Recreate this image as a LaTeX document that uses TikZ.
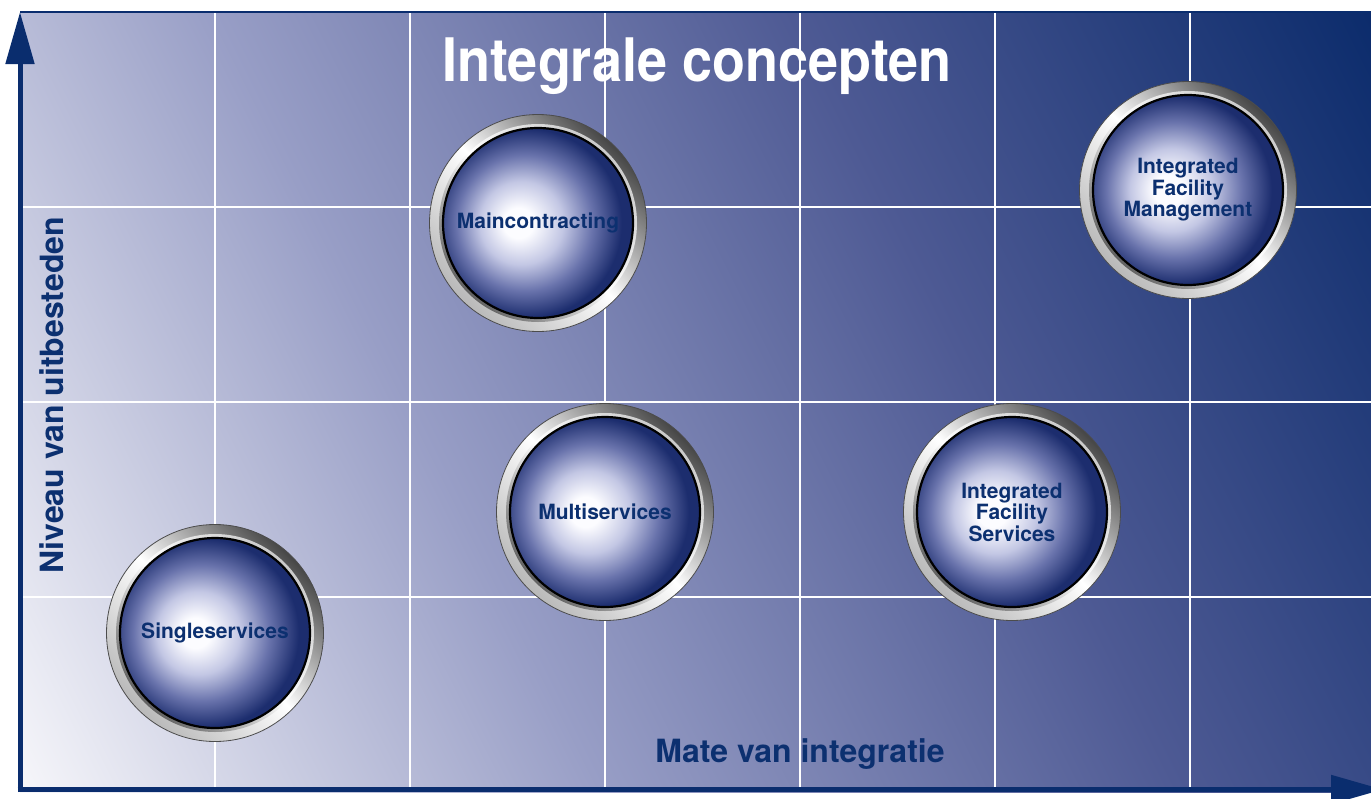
\documentclass[tikz,border=0pt]{standalone}
\usepackage{fontspec}
\setmainfont{TeX Gyre Heros}
\usetikzlibrary{arrows.meta}
\definecolor{navyA}{RGB}{10,45,110}
\definecolor{navyT}{RGB}{12,48,112}
\definecolor{cBL}{RGB}{246,246,250}
\definecolor{cTL}{RGB}{152,158,198}
\definecolor{cBR}{RGB}{78,90,148}
\definecolor{cTR}{RGB}{12,44,108}
\definecolor{ballW}{RGB}{252,252,255}
\definecolor{ballL}{RGB}{195,199,228}
\definecolor{ballM}{RGB}{105,115,172}
\definecolor{ballE}{RGB}{28,45,110}
\pgfdeclarehorizontalshading{bgshade}{100bp}{color(0bp)=(cBL); color(16.46bp)=(cBL); color(38.82bp)=(cTL); color(61.18bp)=(cBR); color(83.54bp)=(cTR); color(100bp)=(cTR)}
\pgfdeclareradialshading{ballshade}{\pgfpoint{-4bp}{-4bp}}{color(0bp)=(ballW); color(4bp)=(ballW); color(11bp)=(ballL); color(18bp)=(ballM); color(25bp)=(ballE); color(50bp)=(ballE)}
\tikzset{
  gridline/.style={white, line width=1.6pt},
  axisline/.style={navyA, line width=5pt, -{Triangle[length=52pt 0, width=28pt 0]}},
  ball/.style={circle, minimum size=217pt, inner sep=0pt, draw=gray!60!black, line width=0.8pt,
    top color=gray!55!black, bottom color=gray!55, middle color=white, shading angle=-45,
    path picture={
      \shade[top color=gray!45, bottom color=gray!65!black, middle color=white, shading angle=-45]
        (path picture bounding box.center) circle (99);
      \shade[shading=ballshade, draw=black, line width=2.2pt]
        (path picture bounding box.center) circle (95);
    },
    text=navyT, font=\fontsize{21}{21.5}\selectfont\bfseries, align=center},
  axislabel/.style={text=navyT, font=\fontsize{32}{32}\selectfont\bfseries, inner sep=0pt},
  titlelabel/.style={text=white, font=\fontsize{60}{60}\selectfont\bfseries, inner sep=0pt}
}
\begin{document}
\begin{tikzpicture}[x=1pt, y=-1pt]
\useasboundingbox (0,0) rectangle (1371,798);
% background
\shade[shading=bgshade, shading angle=26.57] (20,12) rectangle (1371,792);
% grid
\foreach \gx in {215,410,605,800,995,1190} {\draw[gridline] (\gx,12) -- (\gx,792);}
\foreach \gy in {207,402,597} {\draw[gridline] (20,\gy) -- (1371,\gy);}
% top border
\draw[navyA, line width=1.5pt] (20,12) -- (1371,12);
% axes
\coordinate (origin) at (20,792);
\coordinate (ytip) at (20,12);
\coordinate (xstart) at (17.5,789.5);
\coordinate (xtip) at (1383,789.5);
\draw[axisline] (origin) -- (ytip);
\draw[axisline] (xstart) -- (xtip);
% labels
\node[titlelabel, anchor=base] (title) at (697,81) {\scalebox{0.9}[1]{Integrale concepten}};
\node[axislabel, anchor=base] (xlabel) at (800,762) {Mate van integratie};
\node[axislabel, anchor=base, rotate=90] (ylabel) at (63,395) {Niveau van uitbesteden};
% circles
\node[ball] (single) at (215,633) {Singleservices};
\node[ball] (main) at (538,223) {Maincontracting};
\node[ball] (multi) at (605,512) {Multiservices};
\node[ball] (ifs) at (1012,512) {Integrated\\Facility\\Services};
\node[ball] (ifm) at (1188,190) {Integrated\\Facility\\Management};
\end{tikzpicture}
\end{document}
